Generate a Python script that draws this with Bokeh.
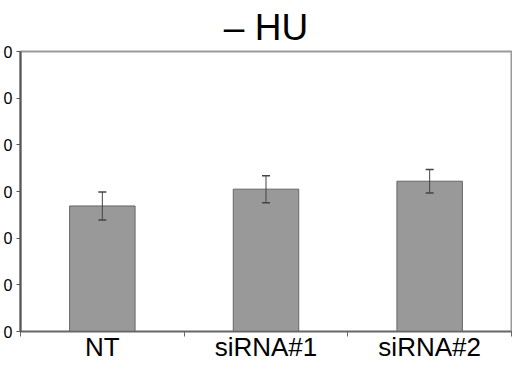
from bokeh.plotting import figure
from bokeh.models import Range1d, FixedTicker, ColumnDataSource, Whisker, TeeHead
from bokeh.embed import file_html
from bokeh.resources import INLINE

# Data
categories = ["NT", "siRNA#1", "siRNA#2"]
values = [26.9, 30.5, 32.2]
errors = [3.0, 2.9, 2.5]
y_ticks = [0, 10, 20, 30, 40, 50, 60]
title_text = "\u2013 HU"

FONT = "Liberation Sans"

xs = [i + 0.5 for i in range(len(categories))]
src = ColumnDataSource(dict(
    x=xs, top=values,
    upper=[v + e for v, e in zip(values, errors)],
    lower=[v - e for v, e in zip(values, errors)],
))

p = figure(width=512, height=364, output_backend="svg", toolbar_location=None,
           x_range=Range1d(0, len(categories)), y_range=Range1d(0, 60),
           min_border_left=17, min_border_right=1, min_border_top=0,
           min_border_bottom=30)
p.background_fill_color = "white"
p.border_fill_color = "white"
p.xgrid.visible = False
p.ygrid.visible = False
p.outline_line_color = "#9a9a9a"
p.outline_line_width = 2

p.title.text = title_text
p.title.align = "center"
p.title.text_font = FONT
p.title.text_font_size = "37px"
p.title.text_font_style = "normal"
p.title.text_color = "black"
p.title.standoff = 8
p.title.offset = 4

p.vbar(x="x", top="top", width=0.4, bottom=0, source=src,
       fill_color="#999999", line_color="#666666", line_width=1)

w = Whisker(base="x", upper="upper", lower="lower", source=src,
            line_color="#444444", line_width=1, level="overlay",
            upper_head=TeeHead(size=8, line_color="#444444", line_width=1.5),
            lower_head=TeeHead(size=8, line_color="#444444", line_width=1.5))
p.add_layout(w)

# x axis: labels at category centers, tick marks between categories
xa = p.xaxis[0]
xa.ticker = FixedTicker(ticks=xs, minor_ticks=list(range(len(categories) + 1)))
xa.major_label_overrides = {x: c for x, c in zip(xs, categories)}
xa.major_tick_out = 0
xa.major_tick_in = 0
xa.minor_tick_out = 5
xa.minor_tick_in = 0
xa.minor_tick_line_color = "#666666"
xa.axis_line_color = "#666666"
xa.axis_line_width = 1.5
xa.major_label_text_font = FONT
xa.major_label_text_font_size = "26px"
xa.major_label_text_color = "black"
xa.major_label_standoff = -5

ya = p.yaxis[0]
ya.ticker = FixedTicker(ticks=y_ticks, minor_ticks=[])
# tick labels are cropped at the image edge: only the last digit is visible
ya.major_label_overrides = {t: str(t)[-1] for t in y_ticks}
ya.major_tick_out = 4
ya.major_tick_in = 0
ya.major_tick_line_color = "#555555"
ya.axis_line_color = "#555555"
ya.axis_line_width = 2
ya.major_label_text_font = FONT
ya.major_label_text_font_size = "16px"
ya.major_label_text_color = "black"
ya.major_label_standoff = 4

open("out.html", "w").write(file_html(p, INLINE))
